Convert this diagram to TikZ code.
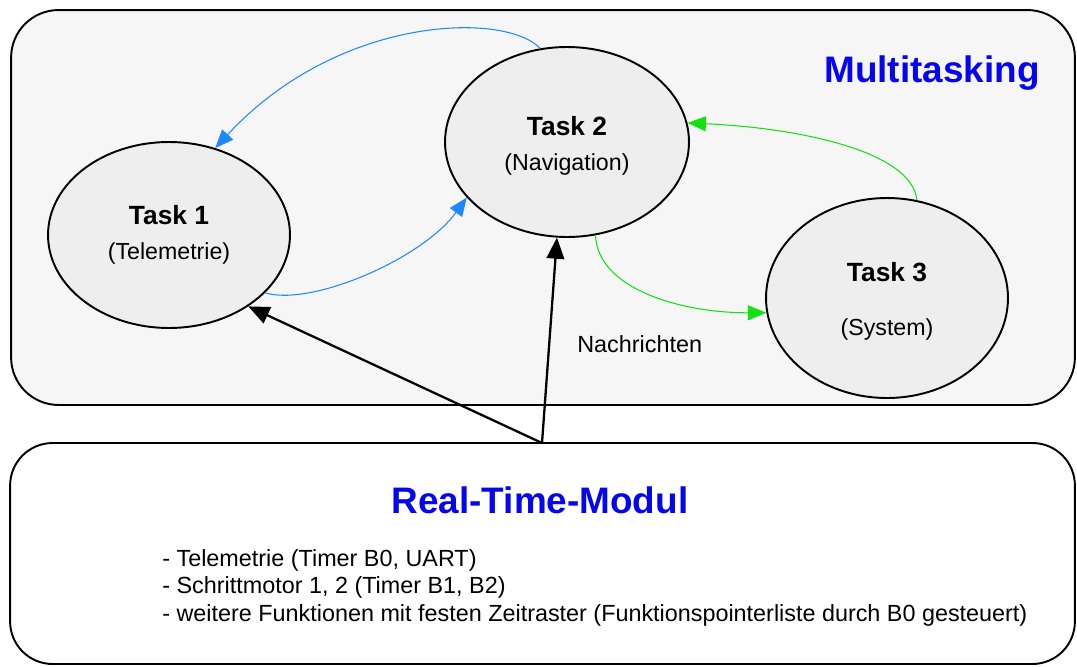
\documentclass[tikz,border=0pt]{standalone}
\usepackage{fontspec}
\setmainfont{Liberation Sans}
\usetikzlibrary{positioning,shapes.geometric,arrows.meta}
\definecolor{panelgray}{RGB}{246,246,246}
\definecolor{taskgray}{RGB}{238,238,238}
\definecolor{msgblue}{RGB}{30,136,255}
\definecolor{msggreen}{RGB}{20,224,20}
\definecolor{titleblue}{RGB}{5,5,240}
\tikzset{panel/.style = {draw, rectangle, line width=1.1pt, inner sep=0pt}}
\tikzset{task/.style = {draw, ellipse, line width=1.1pt, fill=taskgray, align=center, inner sep=0pt, minimum width=4.84cm, minimum height=3.72cm, font=\fontsize{13.2}{19.8}\selectfont}}
\tikzset{heading/.style = {text=titleblue, font=\fontsize{21}{25}\selectfont\bfseries, anchor=base, inner sep=0pt}}
\tikzset{plain/.style = {font=\fontsize{13.3}{15}\selectfont, inner sep=0pt, anchor=base west}}
\tikzset{bluemsg/.style = {draw=msgblue, line width=0.6pt, -{Triangle[length=10.5pt, width=8.5pt]}}}
\tikzset{greenmsg/.style = {draw=msggreen, line width=0.6pt, -{Triangle[length=10.5pt, width=8.5pt]}}}
\tikzset{rtlink/.style = {draw, line width=1.3pt, -{Triangle[length=12pt, width=10pt]}}}
\newcommand{\taskname}[1]{{\fontsize{15}{17}\selectfont\bfseries #1}}

\begin{document}
\begin{tikzpicture}[x=0.02cm, y=-0.02cm]
  \useasboundingbox (0,0) rectangle (1077,666);

  \node [panel, fill=panelgray, rounded corners=0.95cm, minimum width=21.28cm, minimum height=7.9cm] (multi) at (543,207.5) {};
  \node [panel, fill=white, rounded corners=0.85cm, minimum width=21.3cm, minimum height=4.42cm] (rtm) at (542.5,553.5) {};

  \node [heading] (multititle) at (932,82) {Multitasking};
  \node [heading] (rtmtitle) at (540,513) {Real-Time-Modul};

  \node [task] (task1) at (169,235) {\taskname{Task 1}\\(Telemetrie)};
  \node [task, minimum width=4.88cm, minimum height=3.8cm] (task2) at (567,142) {\rule{0pt}{15.6pt}\taskname{Task 2}\\(Navigation)};
  \node [task, minimum height=4cm] (task3) at (887,298) {\rule{0pt}{14.4pt}\taskname{Task 3}\\[10.8pt](System)};

  \node [plain] (msg) at (577,352) {Nachrichten};

  \node [plain] (item1) at (162,566) {- Telemetrie (Timer B0, UART)};
  \node [plain] (item2) at (162,593.5) {- Schrittmotor 1, 2 (Timer B1, B2)};
  \node [plain] (item3) at (162,621) {- weitere Funktionen mit festen Zeitraster (Funktionspointerliste durch B0 gesteuert)};

  \coordinate (hub) at (542,443);

  \path [bluemsg] (task2.106) .. controls +(-35,-37) and +(123,-133) .. (task1.62);
  \path [bluemsg] (task1.-31) .. controls +(45,14) and +(-45,62) .. (task2.-151);
  \path [greenmsg] (task3.73) .. controls +(-5,-49) and +(111,5) .. (task2.9);
  \path [greenmsg] (task2.-73) .. controls +(2,53) and +(-87,0) .. (task3.187);

  \path [rtlink] (hub) -- (task2.-96);
  \path [rtlink] (hub) -- (task1.-42);
\end{tikzpicture}
\end{document}
